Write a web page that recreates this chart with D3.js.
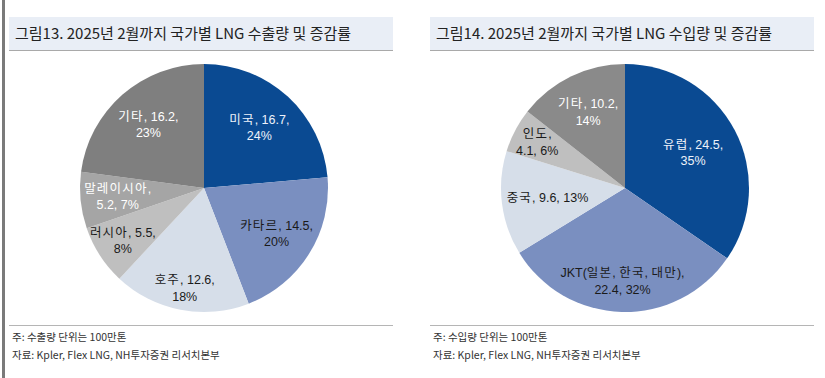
<!DOCTYPE html>
<html><head><meta charset="utf-8">
<script src="https://cdn.jsdelivr.net/npm/d3@7"></script>
<style>
html,body{margin:0;padding:0;background:#fff;}
svg{display:block;}
</style></head>
<body>
<svg id="chart" width="825" height="378"></svg>
<script>
// ---- data ----
const exportTitle = "그림13. 2025년 2월까지 국가별 LNG 수출량 및 증감률";
const exportCountries = ["미국", "카타르", "호주", "러시아", "말레이시아", "기타"];
const exportValues = [16.7, 14.5, 12.6, 5.5, 5.2, 16.2];
const exportPct = [24, 20, 18, 8, 7, 23];
const exportNote = "주: 수출량 단위는 100만톤";

const importTitle = "그림14. 2025년 2월까지 국가별 LNG 수입량 및 증감률";
const importCountries = ["유럽", "JKT(일본, 한국, 대만)", "중국", "인도", "기타"];
const importValues = [24.5, 22.4, 9.6, 4.1, 10.2];
const importPct = [35, 32, 13, 6, 14];
const importNote = "주: 수입량 단위는 100만톤";

const sourceText = "자료: Kpler, Flex LNG, NH투자증권 리서치본부";

// ---- styling / layout (not data) ----
const exportColors = ["#0a4a92", "#7a8fc0", "#d6dee9", "#bfbfbf", "#a5a5a5", "#7f7f7f"];
const exportTextColors = ["#eef2fa", "#1a1a1a", "#1a1a1a", "#1a1a1a", "#ffffff", "#ffffff"];
const exportLabelR = [0.66, 0.69, 0.82, 0.78, 0.70, 0.68];
const exportBreak = [2, 2, 2, 2, 1, 2];

const importColors = ["#0a4a92", "#7a8fc0", "#d6dee9", "#bfbfbf", "#8a8a8a"];
const importTextColors = ["#eef2fa", "#1a1a1a", "#1a1a1a", "#1a1a1a", "#ffffff"];
const importLabelR = [0.62, 0.75, 0.63, 0.80, 0.68];
const importBreak = [2, 1, 3, 1, 2];

const svg = d3.select("#chart");
svg.append("rect").attr("x", 2).attr("y", 0).attr("width", 3).attr("height", 378).attr("fill", "#7a7a7a");

const labelFont = "'Liberation Sans Narrow','Liberation Sans','Noto Sans CJK KR',sans-serif";
const korFont = "'Noto Sans CJK KR','Noto Sans',sans-serif";

function panel(x0, title, countries, values, pct, colors, textColors, labelR, brk, note) {
  const g = svg.append("g").attr("transform", `translate(${x0},0)`);
  // title band
  g.append("rect").attr("x", 9).attr("y", 17).attr("width", 384).attr("height", 33).attr("fill", "#e9eef6");
  g.append("line").attr("x1", 9).attr("x2", 393).attr("y1", 50.5).attr("y2", 50.5).attr("stroke", "#a9a9a9").attr("stroke-width", 1);
  g.append("text").attr("x", 15).attr("y", 39).attr("font-family", korFont).attr("font-size", 15)
    .attr("font-weight", 400).attr("fill", "#222").text(title);
  // footer
  g.append("line").attr("x1", 9).attr("x2", 393).attr("y1", 325.5).attr("y2", 325.5).attr("stroke", "#b5b5b5").attr("stroke-width", 1);
  g.append("text").attr("x", 12).attr("y", 341).attr("font-family", korFont).attr("font-size", 10.5)
    .attr("fill", "#333").text(note);
  g.append("text").attr("x", 12).attr("y", 359).attr("font-family", korFont).attr("font-size", 10.5)
    .attr("fill", "#333").text(sourceText);

  // pie
  const cx = 204, cy = 188, r = 124;
  const idx = d3.range(countries.length);
  const pie = d3.pie().sort(null).value(i => values[i]);
  const arcs = pie(idx);
  const arc = d3.arc().innerRadius(0).outerRadius(r);
  const pg = g.append("g").attr("transform", `translate(${cx},${cy})`);
  pg.selectAll("path").data(arcs).join("path")
    .attr("d", arc).attr("fill", d => colors[d.data]);

  const lh = 16.5;
  arcs.forEach(d => {
    const i = d.data;
    const la = d3.arc().innerRadius(r * labelR[i]).outerRadius(r * labelR[i]);
    const [lx, ly] = la.centroid(d);
    const fields = [countries[i], String(values[i]), pct[i] + "%"];
    const n = brk[i];
    const lines = [];
    if (n >= 3) lines.push(fields.join(", "));
    else { lines.push(fields.slice(0, n).join(", ") + ","); lines.push(fields.slice(n).join(", ")); }
    const t = pg.append("text").attr("text-anchor", "middle")
      .attr("font-family", labelFont).attr("font-size", 12.5).attr("fill", textColors[i]);
    const y0 = ly - (lines.length - 1) * lh / 2 + 4.5;
    lines.forEach((ln, k) => {
      const ts = t.append("tspan").attr("x", lx).attr("y", y0 + k * lh);
      const parts = ln.split(/([\uAC00-\uD7A3]+)/).filter(s => s.length);
      parts.forEach(p => {
        const s = ts.append("tspan").text(p);
        if (/[\uAC00-\uD7A3]/.test(p)) s.attr("letter-spacing", 1.2);
      });
    });
  });
}

panel(0, exportTitle, exportCountries, exportValues, exportPct, exportColors, exportTextColors, exportLabelR, exportBreak, exportNote);
panel(421, importTitle, importCountries, importValues, importPct, importColors, importTextColors, importLabelR, importBreak, importNote);
</script>
</body></html>
